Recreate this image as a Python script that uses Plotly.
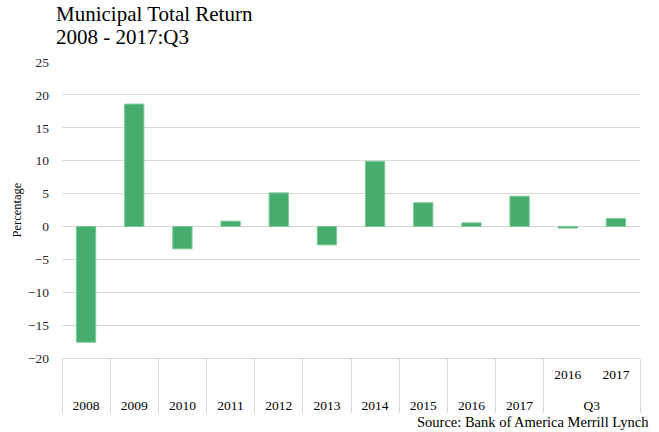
import plotly.graph_objects as go

periods_outer = ["2008", "2009", "2010", "2011", "2012", "2013", "2014", "2015", "2016", "2017", "Q3", "Q3"]
periods_inner = [" ", " ", " ", " ", " ", " ", " ", " ", " ", " ", "2016", "2017"]
returns = [-17.6, 18.6, -3.4, 0.8, 5.1, -2.8, 9.9, 3.6, 0.55, 4.6, -0.25, 1.2]

title_line1 = "Municipal Total Return"
title_line2 = "2008 - 2017:Q3"
source_text = "Source: Bank of America Merrill Lynch"
y_ticks = [-20, -15, -10, -5, 0, 5, 10, 15, 20, 25]

FONT = "Liberation Serif"
GRID = "#d9d9d9"

# inner labels get an extra blank line so the outer row sits lower, as in the reference
inner_labels = [lab + "<br> " for lab in periods_inner]

fig = go.Figure(
    go.Bar(
        x=[periods_outer, inner_labels],
        y=returns,
        marker=dict(color="#47ad6e", line=dict(color="#7cc797", width=1)),
    )
)

fig.update_layout(
    width=659,
    height=432,
    margin=dict(l=62, r=19, t=62, b=74, autoexpand=False),
    paper_bgcolor="white",
    plot_bgcolor="white",
    bargap=0.6,
    showlegend=False,
    font=dict(family=FONT, size=13, color="#262626"),
    annotations=[
        dict(text=title_line1, xref="paper", yref="paper", x=-0.014, y=1.162,
             xanchor="left", yanchor="middle", showarrow=False,
             font=dict(family=FONT, size=21, color="#000000")),
        dict(text=title_line2, xref="paper", yref="paper", x=-0.014, y=1.084,
             xanchor="left", yanchor="middle", showarrow=False,
             font=dict(family=FONT, size=21, color="#000000")),
        dict(text=source_text, xref="paper", yref="paper", x=1, xshift=11, y=-0.216,
             xanchor="right", yanchor="middle", showarrow=False,
             font=dict(family=FONT, size=14.5, color="#000000")),
    ],
)

fig.update_yaxes(
    range=[-20, 25],
    tickvals=y_ticks,
    showgrid=True,
    gridcolor=GRID,
    gridwidth=1,
    zeroline=True,
    zerolinecolor=GRID,
    zerolinewidth=1,
    showline=False,
    ticks="",
    ticklabelstandoff=12,
    tickfont=dict(family=FONT, size=13.5, color="#262626"),
    title=dict(text="Percentage", standoff=3, font=dict(family=FONT, size=12.5, color="#000000")),
)

fig.update_xaxes(
    type="multicategory",
    showline=True,
    linecolor=GRID,
    linewidth=1,
    showgrid=False,
    ticks="",
    ticklabelstandoff=4,
    showdividers=True,
    dividercolor=GRID,
    dividerwidth=1,
    tickfont=dict(family=FONT, size=13.5, color="#000000"),
)

fig.write_html("out.html", config={"displayModeBar": False},
               post_script="document.body.style.margin='0';")
